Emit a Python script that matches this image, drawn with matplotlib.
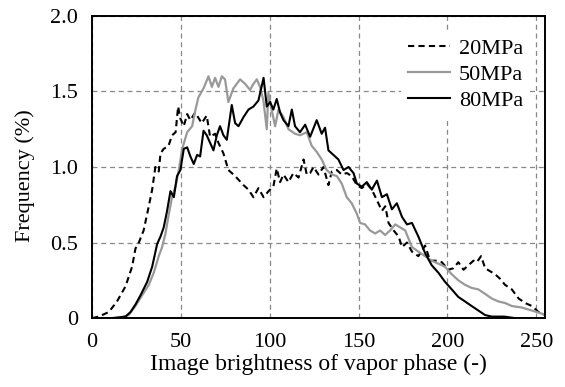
import matplotlib
matplotlib.use("Agg")
import matplotlib.pyplot as plt

plt.rcParams['font.family'] = ['Liberation Serif', 'DejaVu Serif']

# brightness histogram of the vapor phase at three pressures
x_20 = [0, 3.7, 9.4, 14, 18.8, 22.5, 24.4, 26.3, 29, 31.9, 33.8, 35.6, 37.5, 38.5, 40.3,
        43, 45, 47, 48.4, 49.7, 51.6, 53.5, 55.3, 58, 61.7, 64.5, 66.4, 69.2, 71.1,
        73.9, 76.7, 80.5, 85.2, 88, 90.8, 93.6, 96.5, 99.3, 102, 103.9, 105.8, 107.7,
        110.5, 113.3, 116.2, 119, 120.8, 122.7, 124.6, 127.4, 130.2, 133, 134.9, 137.7,
        140.5, 143.3, 146.1, 149, 151.8, 154.6, 157.4, 160.3, 163.1, 165, 166.8, 169.7,
        172.5, 174.4, 177.2, 180, 183.6, 187.4, 190.2, 194, 196.8, 200.5, 203.3, 206.1,
        209, 211.8, 214.6, 216.5, 218.9, 221.2, 224, 226.8, 229.6, 232.4, 236.2, 240,
        243.7, 247.5, 251.3, 255]
y_20 = [0, 0.01, 0.04, 0.11, 0.21, 0.34, 0.46, 0.50, 0.58, 0.74, 0.85, 1.00, 0.97, 1.09, 1.12,
        1.14, 1.21, 1.23, 1.40, 1.32, 1.27, 1.35, 1.31, 1.36, 1.29, 1.34, 1.20, 1.22, 1.16,
        1.09, 0.98, 0.94, 0.88, 0.85, 0.80, 0.86, 0.80, 0.84, 0.87, 0.99, 0.90, 0.95,
        0.90, 0.96, 0.93, 1.05, 0.95, 0.96, 1.00, 0.95, 1.00, 0.88, 0.97, 0.98,
        0.95, 0.96, 0.94, 0.88, 0.86, 0.89, 0.85, 0.78, 0.71, 0.74, 0.63, 0.58,
        0.54, 0.47, 0.50, 0.44, 0.41, 0.48, 0.38, 0.38, 0.37, 0.32, 0.33, 0.37,
        0.32, 0.35, 0.38, 0.37, 0.41, 0.33, 0.31, 0.29, 0.26, 0.22, 0.19, 0.13,
        0.10, 0.08, 0.04, 0.02]

x_50 = [7.5, 15, 20.6, 24.4, 28.1, 31.9, 34.7, 37.5, 39.4, 41.3, 43.2, 45, 46.9, 48.8, 50.7,
        53.5, 56.3, 58.2, 59.8, 62.7, 65.5, 67.4, 69.2, 71.1, 73, 74.8, 76.7, 79.5, 83.3,
        86.1, 88.9, 90.8, 92.7, 94.5, 96.4, 98.3, 99.2, 101, 103, 104.9, 107.7, 110.5,
        114.2, 117, 120.8, 123.6, 126.4, 129.2, 132, 134.9, 137.7, 140.5, 143.3, 146.1,
        149, 150.8, 153.6, 156.4, 159.3, 162.1, 164.9, 167.7, 170.6, 173.4, 176.2, 180,
        183.6, 187.4, 191.1, 194.9, 198.6, 202.4, 206.1, 209.9, 213.6, 217.4, 221.2,
        224.9, 228.7, 232.4, 236.2, 241.8, 247.5, 253, 255]
y_50 = [0, 0, 0.02, 0.08, 0.15, 0.22, 0.30, 0.41, 0.47, 0.56, 0.69, 0.80, 0.87, 0.98, 1.12,
        1.23, 1.27, 1.38, 1.46, 1.52, 1.60, 1.53, 1.59, 1.53, 1.60, 1.58, 1.43, 1.52, 1.58,
        1.55, 1.51, 1.55, 1.58, 1.53, 1.44, 1.25, 1.49, 1.38, 1.27, 1.38, 1.33, 1.25,
        1.22, 1.21, 1.23, 1.14, 1.10, 1.05, 0.98, 0.95, 0.94, 0.89, 0.80, 0.76,
        0.69, 0.63, 0.62, 0.58, 0.56, 0.58, 0.55, 0.58, 0.62, 0.60, 0.58, 0.47,
        0.44, 0.41, 0.38, 0.36, 0.34, 0.29, 0.25, 0.22, 0.20, 0.19, 0.16,
        0.13, 0.11, 0.10, 0.08, 0.07, 0.05, 0.03, 0.02]

x_80 = [11, 18.8, 21.6, 24.4, 27.2, 31, 33.8, 36.6, 38.5, 40.3, 42.2, 44.1, 46, 47.8, 49.7,
        51.6, 53.5, 55.3, 57.2, 59.1, 60.8, 62.7, 64.5, 66.4, 68.3, 70.2, 72, 73.9, 75.8,
        78.6, 80.5, 82.4, 85.2, 88, 90.8, 93.6, 96.5, 98.3, 100.2, 102, 103.9, 105.8,
        107.7, 110.5, 112.4, 114.2, 117, 119.9, 122.7, 126.4, 129.2, 131.1, 133, 135.8,
        138.6, 141.5, 144.3, 147.1, 149, 151.8, 154.6, 157.4, 160.3, 163.1, 165.9, 168.7,
        171.5, 174.4, 177.2, 180, 183.6, 187.4, 191.1, 194.9, 198.6, 202.4, 206.1, 209.9,
        213.6, 217.4, 221.2, 225, 232, 238, 255]
y_80 = [0, 0.01, 0.04, 0.09, 0.15, 0.24, 0.34, 0.49, 0.54, 0.60, 0.71, 0.84, 0.80, 0.94, 0.98,
        1.12, 1.13, 1.07, 1.02, 1.08, 1.07, 1.24, 1.21, 1.16, 1.11, 1.21, 1.27, 1.21, 1.18,
        1.41, 1.29, 1.27, 1.33, 1.38, 1.40, 1.44, 1.59, 1.40, 1.43, 1.38, 1.45, 1.36,
        1.31, 1.27, 1.38, 1.27, 1.23, 1.28, 1.20, 1.31, 1.22, 1.26, 1.11, 1.08,
        1.05, 0.98, 1.00, 0.96, 0.89, 0.87, 0.90, 0.85, 0.91, 0.80, 0.82, 0.72,
        0.76, 0.67, 0.62, 0.63, 0.54, 0.43, 0.35, 0.30, 0.24, 0.19, 0.14, 0.11,
        0.08, 0.05, 0.02, 0.01, 0.01, 0, 0]

fig = plt.figure(figsize=(5.65, 3.87), dpi=100)
ax = fig.add_axes([0.163, 0.178, 0.802, 0.781])

ax.plot(x_20, y_20, color='black', linestyle=(0, (3, 2)), linewidth=1.5, label='20MPa')
ax.plot(x_50, y_50, color='#999999', linewidth=1.6, label='50MPa')
ax.plot(x_80, y_80, color='black', linewidth=1.5, label='80MPa')

ax.set_xlim(0, 255)
ax.set_ylim(0, 2.0)
ax.set_xticks([0, 50, 100, 150, 200, 250])
ax.set_yticks([0, 0.5, 1.0, 1.5, 2.0])
ax.set_yticklabels(['0', '0.5', '1.0', '1.5', '2.0'])
ax.tick_params(length=0, labelsize=16)
ax.tick_params(axis='x', pad=11)
ax.tick_params(axis='y', pad=10)

ax.grid(True, color='#888888', linestyle=(0, (4, 3)), linewidth=0.9)
ax.set_axisbelow(True)
for s in ax.spines.values():
    s.set_linewidth(1.4)

ax.set_xlabel('Image brightness of vapor phase (-)', fontsize=17, labelpad=1)
ax.set_ylabel('Frequency (%)', fontsize=16)
ax.yaxis.set_label_coords(-0.125, 0.47)

leg = ax.legend(loc='upper right', bbox_to_anchor=(0.99, 0.985), fontsize=16,
                frameon=True, fancybox=False, edgecolor='none', facecolor='white',
                framealpha=1, handlelength=1.9, handletextpad=0.4,
                labelspacing=0.25, borderpad=0.3)

fig.savefig('out.png', dpi=100)
